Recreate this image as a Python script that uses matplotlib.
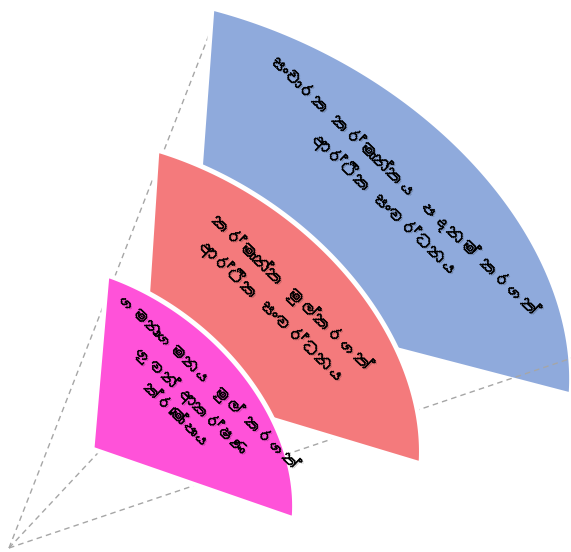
import numpy as np
import matplotlib
matplotlib.use("Agg")
import matplotlib.pyplot as plt
from matplotlib.patches import Polygon
from matplotlib import font_manager
from matplotlib.ft2font import FT2Font
import matplotlib.patheffects as pe

# text of the three segments (back to front)
labels = [
    "සංචාරක කර්මාන්තය පදනම් කරගත්\nආර්ථික සංවර්ධනය",
    "කර්මාන්ත මුල්කරගත්\nආර්ථික සංවර්ධනය",
    "ගමනාගමනය මුල් කරගත්\nගුවන් ආකර්ෂණ\nක්රමෝපාය",
]
colors = ["#8FAADC", "#F47A7C", "#FF52D9"]

# layout of each quarter ring (pixel frame, y down)
origins = [(191, 296), (142, 380), (92, 449)]
right_vecs = [(380, 99), (279, 84), (202, 70)]
up_vecs = [(21, -288), (15, -230), (15, -174)]
inner_right = [0.3, 0.25, 0.0]
inner_up = [0.3, 0.25, 0.0]
text_pos = [(396, 196), (283, 303), (194, 399)]
text_size = [13.5, 13.5, 12.5]

apex = (9, 548)
ray_ends = [(214, 22), (110, 440), (575, 357)]
ray_z = [0.5, 2.5, 1.5]


def find_font(ch):
    for f in font_manager.fontManager.ttflist:
        try:
            if ord(ch) in FT2Font(f.fname).get_charmap():
                return f.name
        except Exception:
            pass
    return "DejaVu Sans"


sinhala = find_font("ස")

fig = plt.figure(figsize=(5.71, 5.52), dpi=100)
ax = fig.add_axes([0, 0, 1, 1])
ax.set_xlim(0, 571)
ax.set_ylim(552, 0)
ax.axis("off")

t = np.linspace(0, np.pi / 2, 120)
for i in range(3):
    O = np.array(origins[i], float)
    B = np.array(right_vecs[i], float)
    A = np.array(up_vecs[i], float)
    r = inner_right[i] + (inner_up[i] - inner_right[i]) * t / (np.pi / 2)
    outer = O + np.outer(np.cos(t), B) + np.outer(np.sin(t), A)
    inner = O + (np.outer(np.cos(t), B) + np.outer(np.sin(t), A)) * r[:, None]
    pts = np.vstack([outer, inner[::-1]])
    ax.add_patch(Polygon(pts, closed=True, facecolor=colors[i],
                         edgecolor="white", lw=3.5, zorder=1 + i))

    ax.text(text_pos[i][0], text_pos[i][1], labels[i], rotation=-44,
            rotation_mode="anchor", ha="center", va="center",
            multialignment="center", fontsize=text_size[i],
            family=[sinhala, "DejaVu Sans"],
            color="black", linespacing=1.45, zorder=10,
            path_effects=[pe.SimplePatchShadow(offset=(1, -1), shadow_rgbFace="#000000", alpha=0.2),
                          pe.withStroke(linewidth=0.35, foreground="black")])

for end, z in zip(ray_ends, ray_z):
    ax.plot([apex[0], end[0]], [apex[1], end[1]], color="#A6A6A6", lw=1.0,
            linestyle=(0, (4, 3)), zorder=z)

fig.savefig("out.png", dpi=100)
